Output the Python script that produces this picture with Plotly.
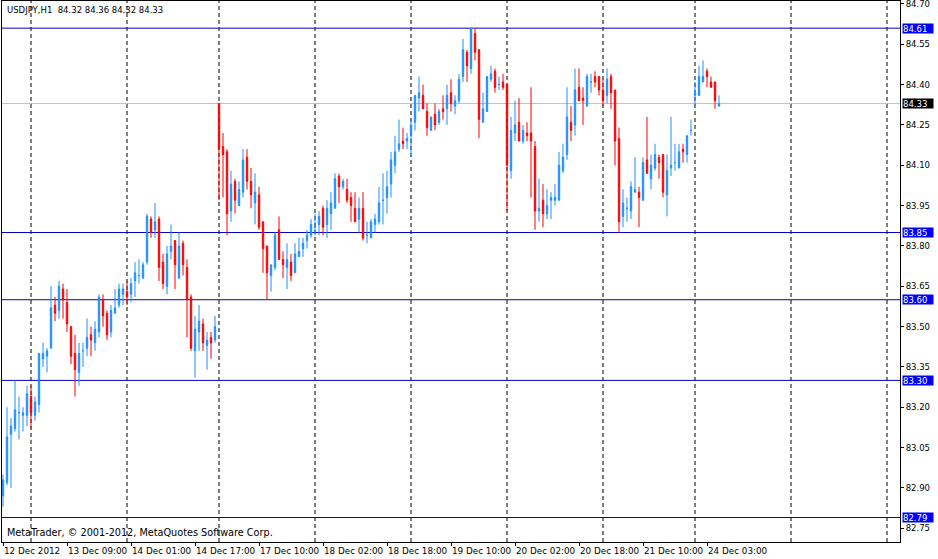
import plotly.graph_objects as go

# USDJPY H1 bars, left to right (bar index 0 = 12 Dec 2012 17:00)
opens = [
    82.87, 82.92, 83.10, 83.12, 83.18, 83.17, 83.17, 83.24, 83.17, 83.21,
    83.38, 83.39, 83.42, 83.58, 83.56, 83.64, 83.59, 83.50, 83.40, 83.33,
    83.41, 83.42, 83.47, 83.44, 83.48, 83.60, 83.55, 83.48, 83.55, 83.58,
    83.62, 83.63, 83.62, 83.67, 83.69, 83.68, 83.74, 83.90, 83.86, 83.90,
    83.74, 83.65, 83.78, 83.82, 83.68, 83.81, 83.72, 83.61, 83.41, 83.48,
    83.51, 83.43, 83.46, 83.45, 84.33, 84.17, 84.15, 83.93, 84.04, 83.95,
    84.00, 84.13, 84.04, 83.96, 83.99, 83.89, 83.80, 83.69, 83.72, 83.86,
    83.75, 83.72, 83.74, 83.70, 83.76, 83.79, 83.82, 83.84, 83.87, 83.88,
    83.94, 83.88, 83.92, 83.94, 84.06, 84.02, 84.01, 83.98, 83.94, 83.90,
    83.94, 83.84, 83.83, 83.88, 83.89, 83.97, 83.98, 84.03, 84.10, 84.16,
    84.19, 84.19, 84.21, 84.26, 84.35, 84.36, 84.30, 84.23, 84.29, 84.26,
    84.31, 84.31, 84.37, 84.32, 84.34, 84.43, 84.52, 84.46, 84.59, 84.53,
    84.26, 84.30, 84.42, 84.45, 84.40, 84.41, 84.40, 84.08, 84.22, 84.26,
    84.19, 84.22, 84.22, 84.17, 83.93, 83.97, 83.92, 83.97, 83.97, 83.97,
    84.08, 84.14, 84.26, 84.25, 84.39, 84.35, 84.32, 84.41, 84.43, 84.43,
    84.38, 84.36, 84.43, 84.38, 84.20, 83.91, 83.94, 83.93, 84.00, 84.00,
    83.97, 84.12, 84.05, 84.09, 84.13, 84.14, 83.99, 84.09, 84.11, 84.09,
    84.16, 84.14, 84.23, 84.36, 84.36, 84.41, 84.45, 84.41, 84.41, 84.32,
]
highs = [
    82.95, 83.20, 83.16, 83.30, 83.24, 83.20, 83.28, 83.28, 83.24, 83.40,
    83.44, 83.42, 83.65, 83.61, 83.67, 83.66, 83.64, 83.50, 83.47, 83.44,
    83.44, 83.53, 83.50, 83.52, 83.62, 83.62, 83.56, 83.58, 83.64, 83.66,
    83.66, 83.67, 83.68, 83.74, 83.75, 83.74, 83.92, 83.91, 83.96, 83.91,
    83.77, 83.80, 83.88, 83.82, 83.85, 83.82, 83.75, 83.62, 83.54, 83.58,
    83.53, 83.48, 83.48, 83.54, 84.33, 84.22, 84.16, 84.08, 84.05, 84.04,
    84.16, 84.16, 84.09, 84.07, 84.02, 83.89, 83.80, 83.73, 83.85, 83.91,
    83.78, 83.81, 83.77, 83.81, 83.83, 83.83, 83.86, 83.90, 83.92, 83.93,
    83.95, 83.97, 84.00, 84.07, 84.07, 84.05, 84.05, 84.00, 84.00, 83.98,
    84.00, 83.89, 83.90, 83.92, 84.02, 84.07, 84.08, 84.15, 84.21, 84.27,
    84.24, 84.22, 84.27, 84.36, 84.43, 84.40, 84.33, 84.28, 84.33, 84.31,
    84.36, 84.40, 84.42, 84.36, 84.44, 84.57, 84.53, 84.61, 84.61, 84.53,
    84.37, 84.43, 84.47, 84.46, 84.43, 84.44, 84.40, 84.28, 84.34, 84.35,
    84.25, 84.26, 84.39, 84.19, 84.05, 84.03, 84.01, 84.00, 84.03, 84.15,
    84.18, 84.39, 84.32, 84.46, 84.46, 84.39, 84.44, 84.44, 84.45, 84.43,
    84.42, 84.46, 84.44, 84.38, 84.24, 84.01, 83.98, 84.04, 84.13, 84.02,
    84.13, 84.28, 84.14, 84.18, 84.14, 84.14, 84.14, 84.28, 84.18, 84.18,
    84.18, 84.21, 84.27, 84.41, 84.47, 84.49, 84.46, 84.43, 84.41, 84.36,
]
lows = [
    82.83, 82.91, 82.90, 83.11, 83.08, 83.11, 83.13, 83.12, 83.15, 83.18,
    83.35, 83.33, 83.42, 83.52, 83.53, 83.53, 83.48, 83.36, 83.24, 83.28,
    83.35, 83.39, 83.39, 83.41, 83.46, 83.50, 83.45, 83.46, 83.55, 83.57,
    83.58, 83.58, 83.59, 83.61, 83.66, 83.68, 83.73, 83.83, 83.83, 83.67,
    83.64, 83.62, 83.75, 83.64, 83.68, 83.69, 83.46, 83.41, 83.31, 83.41,
    83.41, 83.34, 83.38, 83.44, 83.97, 83.98, 83.84, 83.89, 83.92, 83.95,
    83.98, 84.01, 83.94, 83.88, 83.86, 83.70, 83.60, 83.63, 83.71, 83.75,
    83.68, 83.64, 83.67, 83.70, 83.76, 83.76, 83.79, 83.83, 83.84, 83.84,
    83.84, 83.83, 83.86, 83.94, 83.96, 84.01, 83.96, 83.89, 83.89, 83.85,
    83.82, 83.81, 83.83, 83.85, 83.88, 83.88, 83.92, 83.98, 84.07, 84.15,
    84.16, 84.16, 84.13, 84.23, 84.30, 84.31, 84.21, 84.23, 84.23, 84.25,
    84.27, 84.25, 84.30, 84.29, 84.33, 84.41, 84.41, 84.44, 84.49, 84.20,
    84.26, 84.30, 84.41, 84.37, 84.38, 84.38, 83.93, 84.05, 84.19, 84.19,
    84.18, 84.19, 83.98, 83.86, 83.89, 83.87, 83.90, 83.90, 83.95, 83.97,
    84.07, 84.12, 84.19, 84.21, 84.34, 84.25, 84.32, 84.37, 84.39, 84.36,
    84.32, 84.33, 84.31, 84.10, 83.85, 83.87, 83.89, 83.90, 84.00, 83.87,
    83.97, 84.07, 84.01, 84.08, 84.05, 83.98, 83.91, 84.06, 84.08, 84.09,
    84.11, 84.11, 84.21, 84.32, 84.36, 84.41, 84.39, 84.39, 84.31, 84.32,
]
closes = [
    82.93, 83.09, 83.13, 83.19, 83.18, 83.18, 83.25, 83.18, 83.22, 83.40,
    83.40, 83.41, 83.57, 83.55, 83.65, 83.60, 83.51, 83.39, 83.34, 83.40,
    83.41, 83.46, 83.45, 83.49, 83.61, 83.54, 83.47, 83.56, 83.57, 83.64,
    83.64, 83.61, 83.66, 83.70, 83.69, 83.73, 83.91, 83.85, 83.89, 83.72,
    83.66, 83.77, 83.80, 83.73, 83.80, 83.73, 83.60, 83.42, 83.49, 83.52,
    83.44, 83.45, 83.44, 83.50, 84.16, 84.14, 83.92, 84.03, 83.97, 84.01,
    84.12, 84.04, 83.99, 84.00, 83.87, 83.79, 83.70, 83.73, 83.84, 83.75,
    83.73, 83.75, 83.69, 83.77, 83.78, 83.81, 83.84, 83.88, 83.87, 83.91,
    83.87, 83.94, 83.96, 84.05, 84.02, 84.04, 83.97, 83.95, 83.89, 83.94,
    83.83, 83.84, 83.89, 83.90, 83.96, 83.97, 84.02, 84.12, 84.15, 84.18,
    84.18, 84.20, 84.25, 84.36, 84.37, 84.31, 84.24, 84.28, 84.25, 84.30,
    84.30, 84.36, 84.33, 84.34, 84.42, 84.53, 84.47, 84.61, 84.52, 84.27,
    84.31, 84.43, 84.44, 84.39, 84.40, 84.39, 84.10, 84.23, 84.25, 84.19,
    84.23, 84.21, 84.19, 83.93, 83.94, 83.92, 83.95, 83.98, 83.98, 84.10,
    84.13, 84.28, 84.23, 84.38, 84.34, 84.34, 84.43, 84.41, 84.41, 84.38,
    84.34, 84.42, 84.37, 84.19, 83.89, 83.96, 83.94, 84.02, 84.01, 83.98,
    84.11, 84.07, 84.10, 84.14, 84.11, 84.00, 84.08, 84.10, 84.11, 84.15,
    84.15, 84.21, 84.23, 84.37, 84.43, 84.43, 84.43, 84.39, 84.34, 84.33,
]

# time labels every 16 bars, and the bar index where each new day starts
tick_bars = [0, 16, 32, 48, 64, 80, 96, 112, 128, 144, 160, 176]
tick_labels = ["12 Dec 2012", "13 Dec 09:00", "14 Dec 01:00", "14 Dec 17:00",
               "17 Dec 10:00", "18 Dec 02:00", "18 Dec 18:00", "19 Dec 10:00",
               "20 Dec 02:00", "20 Dec 18:00", "21 Dec 10:00", "24 Dec 03:00"]
day_starts = [7, 31, 54, 78, 102, 126, 150, 173, 197, 221]

levels = [84.61, 83.85, 83.60, 83.30, 82.79]
bid = 84.33
price_ticks = [84.70, 84.55, 84.40, 84.25, 84.10, 83.95, 83.80,
               83.65, 83.50, 83.35, 83.20, 83.05, 82.90, 82.75]

BULL = "#1E90FF"
BEAR = "#FF0000"
FONT = "DejaVu Sans"

bars = list(range(len(opens)))
up = [i for i in bars if closes[i] >= opens[i]]
down = [i for i in bars if closes[i] < opens[i]]

fig = go.Figure()
for idx, col in ((up, BULL), (down, BEAR)):
    fig.add_trace(go.Candlestick(
        x=idx,
        open=[opens[i] for i in idx],
        high=[highs[i] for i in idx],
        low=[lows[i] for i in idx],
        close=[closes[i] for i in idx],
        increasing=dict(line=dict(color=col, width=1), fillcolor=col),
        decreasing=dict(line=dict(color=col, width=1), fillcolor=col),
        whiskerwidth=0,
        showlegend=False,
        hoverinfo="skip",
    ))

# period separators
for d in day_starts:
    fig.add_shape(type="line", xref="x", yref="paper", x0=d, x1=d, y0=0, y1=1,
                  line=dict(color="black", width=1, dash="4px,3px"), layer="below")

# horizontal levels + their price boxes
for lv in levels:
    fig.add_shape(type="line", xref="paper", yref="y", x0=0, x1=1, y0=lv, y1=lv,
                  line=dict(color="#0000CC", width=1), layer="below")
fig.add_shape(type="line", xref="paper", yref="y", x0=0, x1=1, y0=bid, y1=bid,
              line=dict(color="#C0C0C0", width=1), layer="below")

for lv, bg in [(v, "#0000FF") for v in levels] + [(bid, "#000000")]:
    fig.add_annotation(x=1, xref="paper", y=lv, yref="y", xanchor="left",
                       yanchor="middle", xshift=2, text=f"{lv:.2f}",
                       showarrow=False, bgcolor=bg, borderpad=0,
                       width=30, height=9, align="left",
                       font=dict(family=FONT, size=8.5, color="white"))

fig.add_annotation(x=0, xref="paper", y=1, yref="paper", xanchor="left", yanchor="top",
                   xshift=3, yshift=-2, showarrow=False,
                   text=f"USDJPY,H1  {opens[-1]:.2f} {highs[-1]:.2f} {lows[-1]:.2f} {closes[-1]:.2f}",
                   font=dict(family=FONT, size=8.5, color="black"))
fig.add_annotation(x=0, xref="paper", y=0, yref="paper", xanchor="left", yanchor="bottom",
                   xshift=3, yshift=2, showarrow=False,
                   text="MetaTrader, © 2001-2012, MetaQuotes Software Corp.",
                   font=dict(family=FONT, size=9.7, color="black"))

fig.update_layout(
    width=938, height=559,
    margin=dict(l=2, r=38, t=1, b=17, autoexpand=False),
    paper_bgcolor="white", plot_bgcolor="white",
    font=dict(family=FONT, size=8.5, color="black"),
    boxgap=0.5,
    xaxis=dict(
        type="linear", range=[-0.25, 224.25], rangeslider=dict(visible=False),
        showgrid=False, zeroline=False, showline=True, linecolor="black", linewidth=1,
        mirror=True, ticks="outside", ticklen=3, tickcolor="black",
        tickvals=tick_bars, ticktext=tick_labels, ticklabelposition="outside right",
        tickangle=0, automargin=False, tickfont=dict(size=8.8),
        ticklabeloverflow="allow",
    ),
    yaxis=dict(
        side="right", range=[82.699, 84.711],
        showgrid=False, zeroline=False, showline=True, linecolor="black", linewidth=1,
        mirror=True, ticks="outside", ticklen=3, tickcolor="black",
        tickvals=price_ticks, tickformat=".2f", automargin=False,
        ticklabeloverflow="allow",
    ),
)

# drop the browser's default page margin so the figure fills the window
fig.write_html("out.html", config={"displayModeBar": False},
               post_script="document.body.style.margin='0';")
